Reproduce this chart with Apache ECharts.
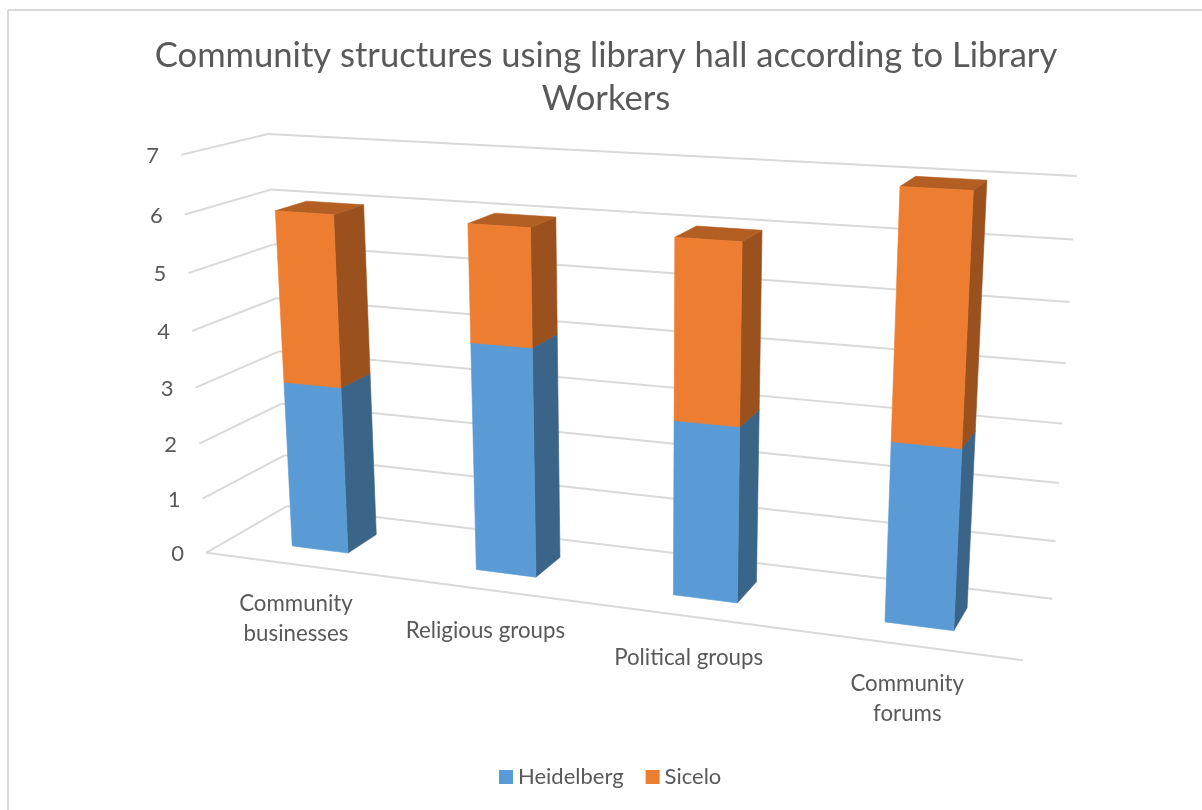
<!DOCTYPE html>
<html>
<head>
<meta charset="utf-8">
<style>html,body{margin:0;padding:0;background:#fff}#chart{width:1202px;height:810px}</style>
<script src="https://cdn.jsdelivr.net/npm/echarts@6/dist/echarts.min.js"></script>
</head>
<body>
<div id="chart"></div>
<script>
// Chart content
const titleText = 'Community structures using library hall according to Library\nWorkers';
const categories = ['Community\nbusinesses', 'Religious groups', 'Political groups', 'Community\nforums'];
const heidelberg = [3, 4, 3, 3];
const sicelo = [3, 2, 3, 4];
const yTicks = [0, 1, 2, 3, 4, 5, 6, 7];

// Palette: front, side and top shades of each column
const shades = {
  Heidelberg: { front: '#5B9BD5', side: '#3A6589', top: '#44749F' },
  Sicelo: { front: '#ED7D31', side: '#9A511E', top: '#B35E22' }
};
const gridColor = '#D9D9D9';
const textColor = '#595959';
const fontFamily = 'Lato, "Open Sans", sans-serif';

// View of the 3D box: [u along categories, v up the value axis, w into the page] -> screen
const boxView = [
  [0, 0, 0, 205, 553], [0, 1, 0, 182, 155],
  [0, 0, 1, 288, 506], [0, 1, 1, 267, 134],
  [1, 0, 0, 1023, 660],
  [1, 0, 1, 1052, 599], [1, 1, 1, 1077, 176]
];
const columnFill = 0.31;   // column width as a share of the category band
const columnDepth = [0.3, 0.68];

// Least-squares fit of the 11 terms of a perspective camera
function fitCamera(points) {
  const rows = [], rhs = [];
  points.forEach(([u, v, w, x, y]) => {
    rows.push([u, v, w, 1, 0, 0, 0, 0, -x * u, -x * v, -x * w]); rhs.push(x);
    rows.push([0, 0, 0, 0, u, v, w, 1, -y * u, -y * v, -y * w]); rhs.push(y);
  });
  const n = 11;
  const m = [];
  for (let i = 0; i < n; i++) {
    m[i] = [];
    for (let j = 0; j < n; j++) m[i][j] = rows.reduce((s, r) => s + r[i] * r[j], 0);
    m[i][n] = rows.reduce((s, r, k) => s + r[i] * rhs[k], 0);
  }
  for (let c = 0; c < n; c++) {
    let best = c;
    for (let r = c + 1; r < n; r++) if (Math.abs(m[r][c]) > Math.abs(m[best][c])) best = r;
    [m[c], m[best]] = [m[best], m[c]];
    for (let r = 0; r < n; r++) {
      if (r === c) continue;
      const f = m[r][c] / m[c][c];
      for (let k = c; k <= n; k++) m[r][k] -= f * m[c][k];
    }
  }
  return m.map((row, i) => row[n] / row[i]);
}
const cam = fitCamera(boxView);
function project(u, v, w) {
  const d = cam[8] * u + cam[9] * v + cam[10] * w + 1;
  return [
    (cam[0] * u + cam[1] * v + cam[2] * w + cam[3]) / d,
    (cam[4] * u + cam[5] * v + cam[6] * w + cam[7]) / d
  ];
}

// Hidden cartesian grid that supplies the scales; its unit box is fed through the camera
const plot = { left: 100, top: 100, width: 800, height: 500 };
const toU = px => (px - plot.left) / plot.width;
const toV = py => (plot.top + plot.height - py) / plot.height;

function polygon(points, color) {
  return {
    type: 'polygon',
    shape: { points },
    style: { fill: color, stroke: color, lineWidth: 0.6 }
  };
}

function renderColumn(name) {
  return function (params, api) {
    const idx = api.value(0);
    const low = api.coord([idx, api.value(1)]);
    const high = api.coord([idx, api.value(2)]);
    const halfWidth = api.size([1, 0])[0] * columnFill / 2;
    const u0 = toU(low[0] - halfWidth), u1 = toU(low[0] + halfWidth);
    const v0 = toV(low[1]), v1 = toV(high[1]);
    const [w0, w1] = columnDepth;
    const s = shades[name];
    return {
      type: 'group',
      children: [
        polygon([project(u1, v0, w0), project(u1, v1, w0), project(u1, v1, w1), project(u1, v0, w1)], s.side),
        polygon([project(u0, v1, w0), project(u1, v1, w0), project(u1, v1, w1), project(u0, v1, w1)], s.top),
        polygon([project(u0, v0, w0), project(u1, v0, w0), project(u1, v1, w0), project(u0, v1, w0)], s.front)
      ]
    };
  };
}

function gridLine(a, b) {
  return {
    type: 'line',
    shape: { x1: a[0], y1: a[1], x2: b[0], y2: b[1] },
    style: { stroke: gridColor, lineWidth: 2 }
  };
}

function renderGridLine(params, api) {
  const tick = api.value(0);
  const v = toV(api.coord([0, tick])[1]);
  const frontLeft = project(0, v, 0), backLeft = project(0, v, 1), backRight = project(1, v, 1);
  const children = [gridLine(frontLeft, backLeft), gridLine(backLeft, backRight)];
  if (tick === yTicks[0]) children.push(gridLine(frontLeft, project(1, v, 0)));
  children.push({
    type: 'text',
    style: {
      text: String(tick), x: frontLeft[0] - 28.5, y: frontLeft[1] + 1,
      align: 'center', verticalAlign: 'middle',
      fill: textColor, font: '22px ' + fontFamily
    }
  });
  return { type: 'group', children };
}

function renderCategoryLabel(params, api) {
  const idx = api.value(0);
  const u = toU(api.coord([idx, 0])[0]);
  const p = project(u, 0, 0);
  const wrapped = categories[idx].includes('\n');
  return {
    type: 'text',
    style: {
      text: categories[idx], x: p[0], y: p[1] + (wrapped ? 24 : 26.5),
      align: 'center', verticalAlign: 'top',
      fill: textColor, font: '22.3px ' + fontFamily, lineHeight: 30
    }
  };
}

function columnSeries(name, values, bases) {
  return {
    name, type: 'custom', coordinateSystem: 'cartesian2d', z: 3,
    itemStyle: { color: shades[name].front },
    renderItem: renderColumn(name),
    encode: { x: 0, y: 2 },
    data: values.map((val, i) => [i, bases[i], bases[i] + val])
  };
}

const chart = echarts.init(document.getElementById('chart'), null, { renderer: 'canvas' });
chart.setOption({
  animation: false,
  backgroundColor: '#fff',
  title: {
    text: titleText, left: 601, top: 29, textAlign: 'center',
    textStyle: { color: textColor, fontFamily, fontWeight: 'normal', fontSize: 34.6, lineHeight: 43.5 }
  },
  legend: {
    data: ['Heidelberg', 'Sicelo'], left: 494, top: 761,
    icon: 'rect', itemWidth: 14, itemHeight: 14, itemGap: 22,
    textStyle: { color: textColor, fontFamily, fontSize: 22 }
  },
  grid: plot,
  xAxis: { type: 'category', data: categories, show: false },
  yAxis: { type: 'value', min: 0, max: 7, interval: 1, show: false },
  graphic: [
    { type: 'line', shape: { x1: 8, y1: 10, x2: 1202, y2: 10 }, style: { stroke: gridColor, lineWidth: 2 } },
    { type: 'line', shape: { x1: 8, y1: 10, x2: 8, y2: 810 }, style: { stroke: gridColor, lineWidth: 2 } }
  ],
  series: [
    {
      name: 'grid', type: 'custom', coordinateSystem: 'cartesian2d', z: 1, silent: true,
      renderItem: renderGridLine, encode: { y: 0 }, data: yTicks.map(t => [t])
    },
    {
      name: 'labels', type: 'custom', coordinateSystem: 'cartesian2d', z: 2, silent: true,
      renderItem: renderCategoryLabel, encode: { x: 0 }, data: categories.map((c, i) => [i])
    },
    columnSeries('Heidelberg', heidelberg, heidelberg.map(() => 0)),
    columnSeries('Sicelo', sicelo, heidelberg)
  ]
});
</script>
</body>
</html>
